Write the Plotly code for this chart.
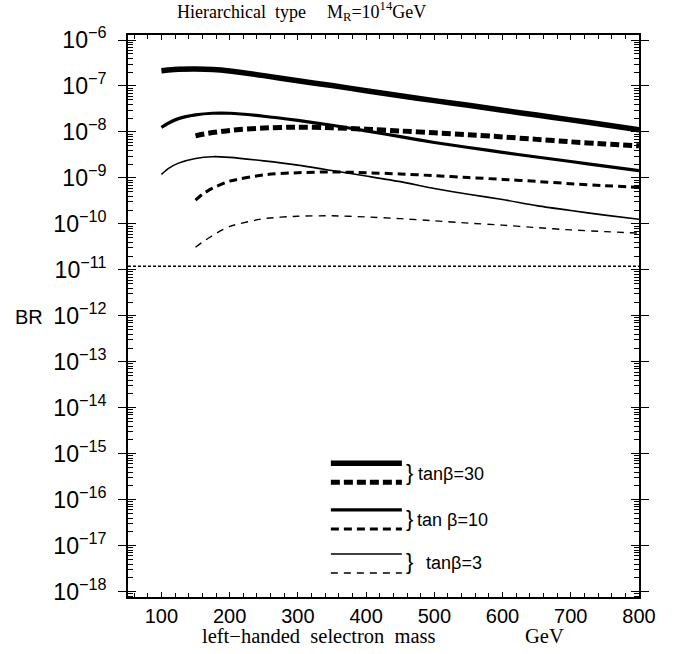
import plotly.graph_objects as go

# ---------------- data ----------------
X_SOLID = [100, 110, 125, 150, 175, 200, 250, 300, 350, 400, 450, 500, 550, 600, 650, 700, 750, 800]
X_DASH = [150, 160, 175, 200, 250, 300, 350, 400, 450, 500, 550, 600, 650, 700, 750, 800]

BR_TB30_SOLID = [2.15e-7, 2.22e-7, 2.3e-7, 2.33e-7, 2.28e-7, 2.12e-7, 1.68e-7, 1.3e-7, 1.02e-7, 7.9e-8,
                 6.15e-8, 4.8e-8, 3.8e-8, 2.97e-8, 2.33e-8, 1.83e-8, 1.44e-8, 1.12e-8]
BR_TB30_DASH = [8.2e-9, 8.9e-9, 9.7e-9, 1.08e-8, 1.22e-8, 1.27e-8, 1.24e-8, 1.15e-8, 1.05e-8, 9.6e-9,
                8.7e-9, 7.8e-9, 6.9e-9, 6.1e-9, 5.5e-9, 5.0e-9]
BR_TB10_SOLID = [1.26e-8, 1.55e-8, 1.95e-8, 2.35e-8, 2.55e-8, 2.55e-8, 2.2e-8, 1.78e-8, 1.4e-8, 1.06e-8,
                 7.9e-9, 5.9e-9, 4.6e-9, 3.6e-9, 2.85e-9, 2.28e-9, 1.8e-9, 1.44e-9]
BR_TB10_DASH = [3.3e-10, 4.4e-10, 6.0e-10, 8.5e-10, 1.17e-9, 1.3e-9, 1.35e-9, 1.3e-9, 1.22e-9, 1.12e-9,
                1.02e-9, 9.3e-10, 8.4e-10, 7.5e-10, 6.8e-10, 6.2e-10]
BR_TB3_SOLID = [1.2e-9, 1.6e-9, 2.1e-9, 2.65e-9, 2.9e-9, 2.8e-9, 2.35e-9, 1.9e-9, 1.45e-9, 1.1e-9,
                8.3e-10, 5.9e-10, 4.4e-10, 3.4e-10, 2.5e-10, 1.95e-10, 1.55e-10, 1.26e-10]
BR_TB3_DASH = [3.1e-11, 4.0e-11, 5.6e-11, 8.8e-11, 1.3e-10, 1.47e-10, 1.5e-10, 1.42e-10, 1.3e-10, 1.17e-10,
               1.04e-10, 9.4e-11, 8.3e-11, 7.4e-11, 6.8e-11, 6.3e-11]

BOUND = 1.2e-11
X_RANGE = [51, 800]
LOG_Y_RANGE = [-18.115, -5.891]

LEGEND_LABELS = ["tan\u03b2=30", "tan \u03b2=10", "tan\u03b2=3"]

SANS = "Liberation Sans, Arial, Helvetica, sans-serif"
SERIF = "Liberation Serif, Times New Roman, serif"

fig = go.Figure()

def add_curve(x, y, width, dash):
    fig.add_trace(go.Scatter(x=x, y=y, mode="lines",
                             line=dict(color="black", width=width, dash=dash, shape="spline", smoothing=0.6),
                             showlegend=False, hoverinfo="skip"))

add_curve(X_SOLID, BR_TB30_SOLID, 5.5, "solid")
add_curve(X_DASH, BR_TB30_DASH, 5.0, "9px,4px")
add_curve(X_SOLID, BR_TB10_SOLID, 3.2, "solid")
add_curve(X_DASH, BR_TB10_DASH, 3.0, "8px,5px")
add_curve(X_SOLID, BR_TB3_SOLID, 1.6, "solid")
add_curve(X_DASH, BR_TB3_DASH, 1.4, "7px,6px")

# experimental bound (dotted horizontal line), drawn on the overlay axis
fig.add_trace(go.Scatter(x=X_RANGE, y=[BOUND, BOUND], mode="lines", yaxis="y2",
                         line=dict(color="black", width=1.4, dash="3px,2px"),
                         showlegend=False, hoverinfo="skip"))

# ---------------- legend drawn by hand ----------------
leg_x0, leg_x1 = 0.397, 0.536
leg_styles = [
    (0.238, 5.5, "solid"), (0.204, 5.0, "9px,4px"),
    (0.155, 3.2, "solid"), (0.121, 3.0, "8px,5px"),
    (0.0765, 1.6, "solid"), (0.0427, 1.4, "7px,6px"),
]
for yy, w, d in leg_styles:
    fig.add_shape(type="line", xref="paper", yref="paper", x0=leg_x0, x1=leg_x1, y0=yy, y1=yy,
                  line=dict(color="black", width=w, dash=d))

brace_y = [0.221, 0.139, 0.0625]
text_x = [0.5636, 0.5616, 0.579]
for by, tx, lab in zip(brace_y, text_x, LEGEND_LABELS):
    fig.add_annotation(xref="paper", yref="paper", x=0.541, y=by, text="}", showarrow=False,
                       xanchor="left", yanchor="middle", font=dict(family=SANS, size=22, color="black"))
    fig.add_annotation(xref="paper", yref="paper", x=tx, y=by - 0.002, text=lab, showarrow=False,
                       xanchor="left", yanchor="middle", font=dict(family=SANS, size=18, color="black"))

# ---------------- titles ----------------
fig.add_annotation(xref="paper", yref="paper", x=0.092, y=1.041, text="Hierarchical\u00a0\u00a0type",
                   showarrow=False, xanchor="left", yanchor="middle",
                   font=dict(family=SERIF, size=18, color="black"))
fig.add_annotation(xref="paper", yref="paper", x=0.3855, y=1.041, text="M<sub>R</sub>=10<sup>14</sup>GeV",
                   showarrow=False, xanchor="left", yanchor="middle",
                   font=dict(family=SERIF, size=18, color="black"))
fig.add_annotation(xref="paper", yref="paper", x=0.141, y=-0.0694,
                   text="left\u2212handed\u00a0\u00a0selectron\u00a0\u00a0mass",
                   showarrow=False, xanchor="left", yanchor="middle",
                   font=dict(family=SERIF, size=20.5, color="black"))
fig.add_annotation(xref="paper", yref="paper", x=0.773, y=-0.0694, text="GeV",
                   showarrow=False, xanchor="left", yanchor="middle",
                   font=dict(family=SERIF, size=20.5, color="black"))
fig.add_annotation(xref="paper", yref="paper", x=-0.1947, y=0.499, text="BR",
                   showarrow=False, xanchor="center", yanchor="middle",
                   font=dict(family=SANS, size=20, color="black"))

# ---------------- axes ----------------
fig.update_layout(
    width=689, height=654,
    margin=dict(l=128, r=50, t=35, b=57),
    paper_bgcolor="white", plot_bgcolor="white",
    showlegend=False,
    xaxis=dict(type="linear", range=X_RANGE, tick0=0, dtick=100,
               ticks="inside", ticklen=5, tickwidth=1.2, tickcolor="black",
               minor=dict(dtick=20, ticks="inside", ticklen=4, tickwidth=1, tickcolor="black", showgrid=False),
               showline=True, linecolor="black", linewidth=1.6, mirror="ticks",
               showgrid=False, zeroline=False,
               tickfont=dict(family=SANS, size=20, color="black")),
    yaxis=dict(type="log", range=LOG_Y_RANGE, dtick=1, exponentformat="power",
               ticks="outside", ticklen=8, tickwidth=1.4, tickcolor="black",
               minor=dict(ticks="inside", ticklen=5, tickwidth=1, tickcolor="black", dtick="D1", showgrid=False),
               showline=True, linecolor="black", linewidth=1.6, mirror="ticks",
               showgrid=False, zeroline=False, ticklabelstandoff=8,
               tickfont=dict(family=SANS, size=18.5, color="black")),
    yaxis2=dict(type="log", range=LOG_Y_RANGE, dtick=1, overlaying="y", side="left",
                ticks="inside", ticklen=8, tickwidth=1.4, tickcolor="black",
                showticklabels=False, showline=False, mirror="ticks",
                showgrid=False, zeroline=False),
)

fig.write_html("out.html", config={"displayModeBar": False},
               post_script="document.body.style.margin='0';document.body.style.padding='0';")
